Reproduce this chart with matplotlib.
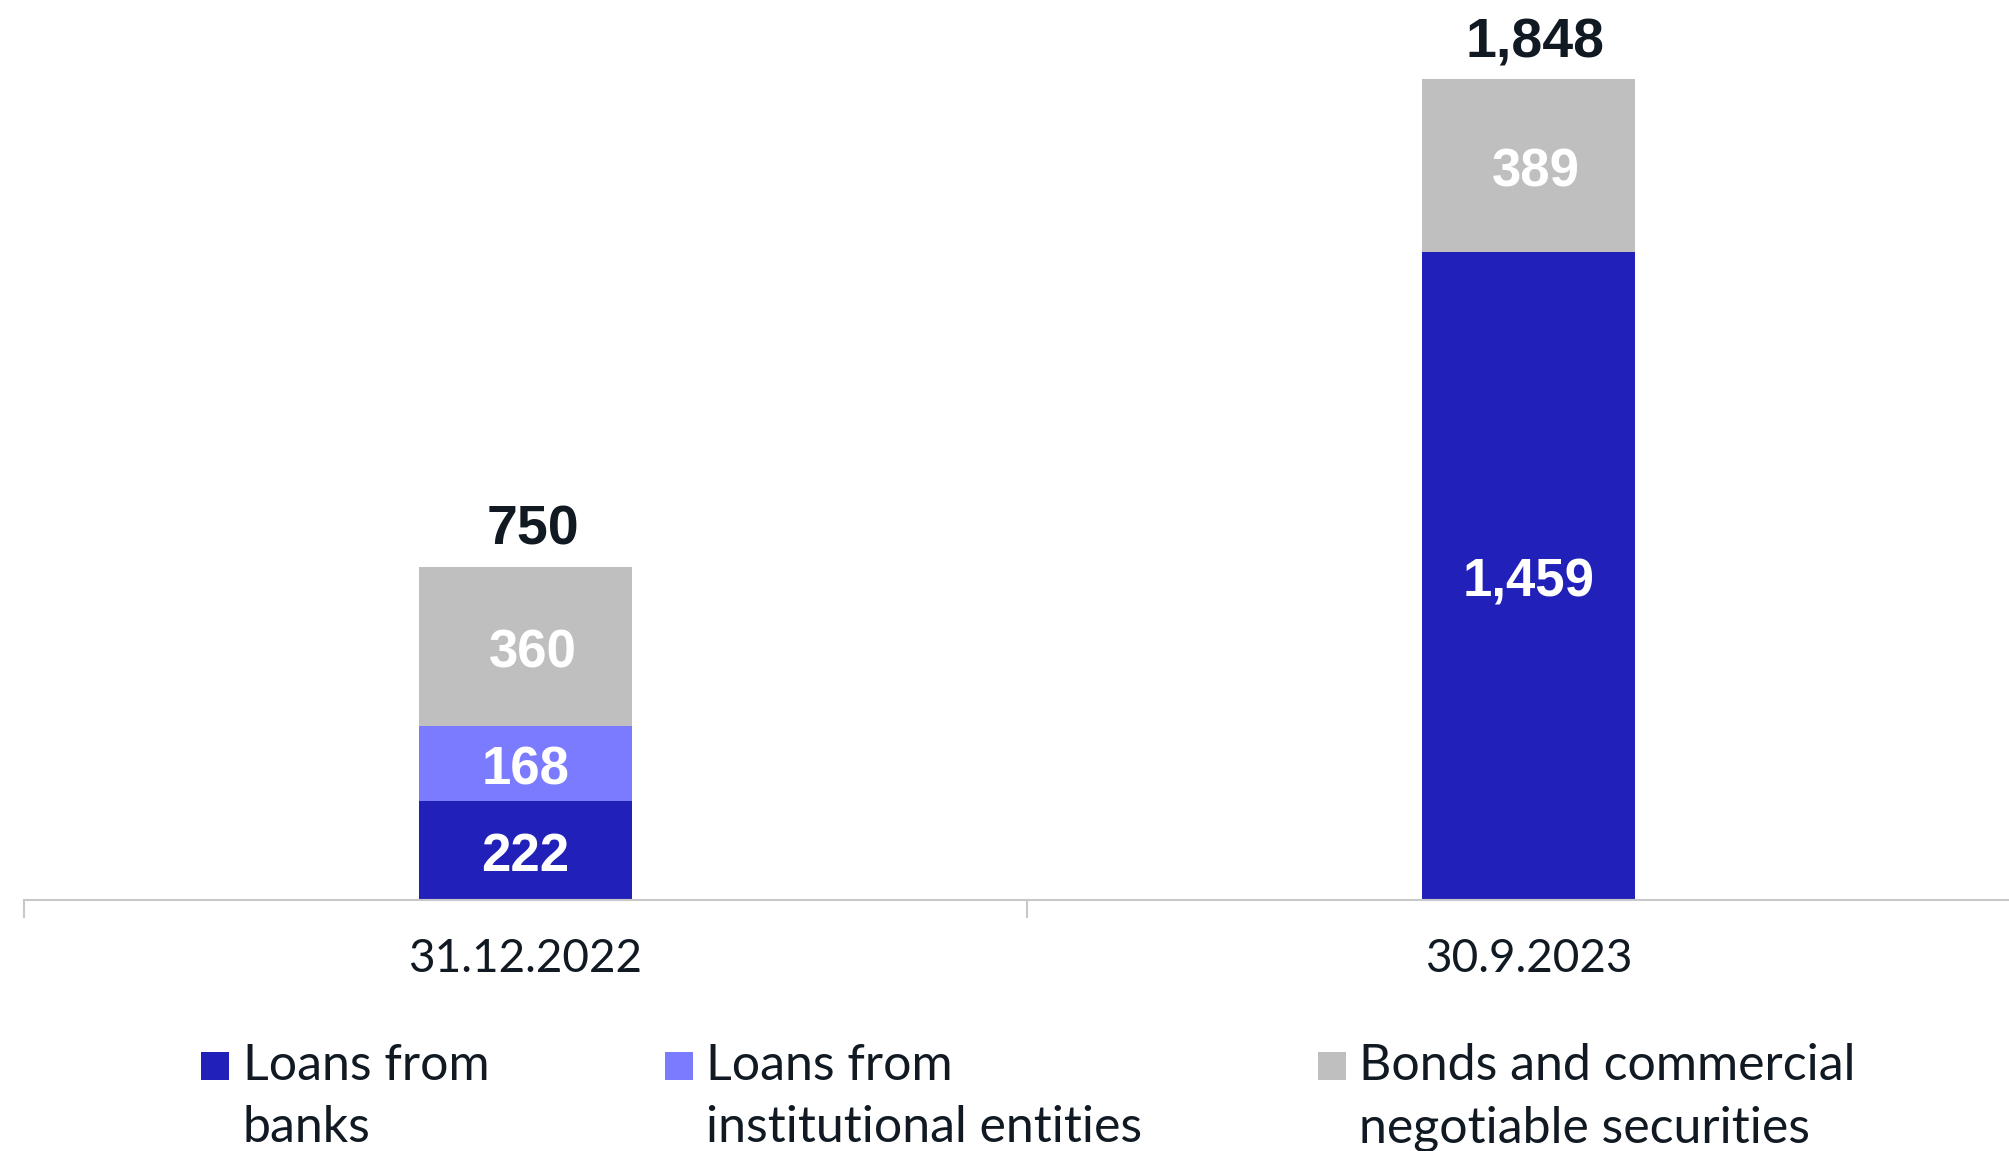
import matplotlib.pyplot as plt
from matplotlib.patches import Rectangle

# Funding sources (in millions), stacked per reporting date
dates = ["31.12.2022", "30.9.2023"]
series_names = [
    ["Loans from", "banks"],
    ["Loans from", "institutional entities"],
    ["Bonds and commercial", "negotiable securities"],
]
banks = [222, 1459]
institutional = [168, 0]
bonds = [360, 389]
totals = [750, 1848]

colors = ["#2121B9", "#7B7BFF", "#BFBFBF"]
text_dark = "#111A22"
axis_grey = "#C8C8C8"

W, H, DPI = 2009, 1151, 100
fig = plt.figure(figsize=(W / DPI, H / DPI), dpi=DPI)
ax = fig.add_axes([24 / W, (H - 899.5) / H, (2030 - 24) / W, 899.5 / H])

x = list(range(len(dates)))
bar_w = 0.212
bottom = [0] * len(dates)
for vals, col in zip([banks, institutional, bonds], colors):
    bars = ax.bar(x, vals, bar_w, bottom=bottom, color=col, linewidth=0)
    for i, (b, v) in enumerate(zip(bars, vals)):
        if v == 0:
            continue
        dx = 5 if col == colors[2] else 0
        ax.annotate(f"{v:,}", (b.get_x() + b.get_width() / 2, bottom[i] + v / 2),
                    xytext=(dx, -5), textcoords="offset points",
                    ha="center", va="center", color="white",
                    fontsize=38, fontweight="bold", family="Liberation Sans")
    bottom = [bt + v for bt, v in zip(bottom, vals)]

for i, t in enumerate(totals):
    ax.annotate(f"{t:,}", (i, t), xytext=(5, 16), textcoords="offset points",
                ha="center", va="baseline", color=text_dark,
                fontsize=40, fontweight="bold", family="Liberation Sans")

ax.set_xlim(-0.5, 1.5)
ax.set_ylim(0, 2027)

for s in ["top", "right", "left"]:
    ax.spines[s].set_visible(False)
ax.spines["bottom"].set_color(axis_grey)
ax.spines["bottom"].set_linewidth(1.5)
ax.set_yticks([])

ax.set_xticks(x)
ax.set_xticklabels(dates, family="Lato", fontsize=33, color=text_dark)
ax.tick_params(axis="x", which="major", length=0, pad=28)
ax.set_xticks([-0.5, 0.5, 1.5], minor=True)
ax.tick_params(axis="x", which="minor", length=13, width=1.5, color=axis_grey)

# legend drawn by hand so the three entries sit at their own columns
sq_x = [201, 665, 1318]
txt_x = [243, 706, 1359]
line_y = [1080, 1142]
for sx, tx, col, lines in zip(sq_x, txt_x, colors, series_names):
    fig.patches.append(Rectangle((sx / W, (H - 1080) / H), 28 / W, 28 / H,
                                 transform=fig.transFigure, color=col, linewidth=0))
    for ly, line in zip(line_y, lines):
        fig.text(tx / W, (H - ly) / H, line, family="Lato", fontsize=36,
                 color=text_dark, ha="left", va="baseline")

fig.savefig("out.png", dpi=DPI)
